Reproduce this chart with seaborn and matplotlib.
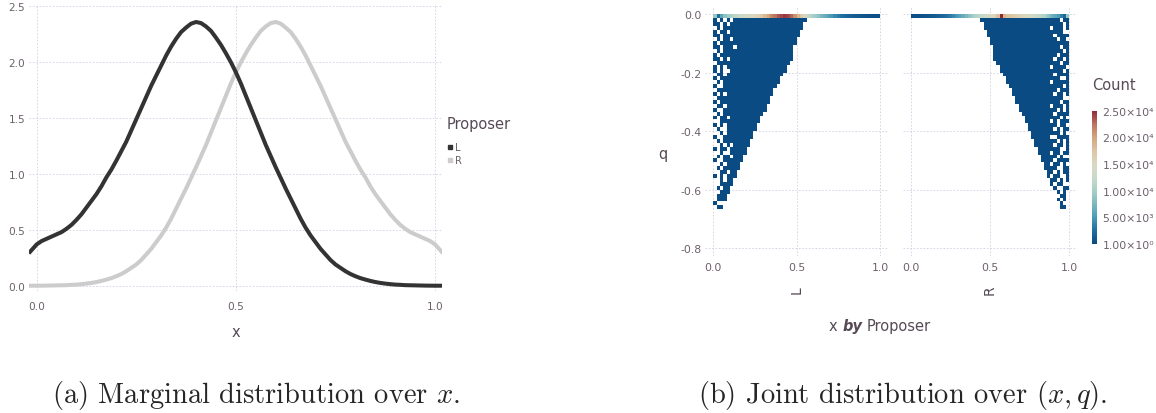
import numpy as np
import pandas as pd
import matplotlib
matplotlib.use("Agg")
import matplotlib.pyplot as plt
import seaborn as sns
from matplotlib.colors import LinearSegmentedColormap
from matplotlib.lines import Line2D

# ------------------------------------------------------------------ data
# (a) marginal density over x, per proposer
x_points = [-0.02,
            0.0, 0.0125, 0.025, 0.0375, 0.05, 0.0625, 0.075, 0.0875, 0.1, 0.1125,
            0.125, 0.1375, 0.15, 0.1625, 0.175, 0.1875, 0.2, 0.2125, 0.225, 0.2375,
            0.25, 0.2625, 0.275, 0.2875, 0.3, 0.3125, 0.325, 0.3375, 0.35, 0.3625,
            0.375, 0.3875, 0.4, 0.4125, 0.425, 0.4375, 0.45, 0.4625, 0.475, 0.4875,
            0.5, 0.5125, 0.525, 0.5375, 0.55, 0.5625, 0.575, 0.5875, 0.6, 0.6125,
            0.625, 0.6375, 0.65, 0.6625, 0.675, 0.6875, 0.7, 0.7125, 0.725, 0.7375,
            0.75, 0.7625, 0.775, 0.7875, 0.8, 0.8125, 0.825, 0.8375, 0.85, 0.8625,
            0.875, 0.8875, 0.9, 0.9125, 0.925, 0.9375, 0.95, 0.9625, 0.975, 0.9875,
            1.0,
            1.02]
density_L = [0.29,
             0.37, 0.40, 0.42, 0.44, 0.46, 0.48, 0.51, 0.545, 0.59, 0.64,
             0.70, 0.76, 0.82, 0.89, 0.97, 1.04, 1.12, 1.205, 1.29, 1.39,
             1.49, 1.59, 1.69, 1.79, 1.88, 1.97, 2.06, 2.14, 2.21, 2.27,
             2.31, 2.345, 2.36, 2.35, 2.32, 2.28, 2.22, 2.155, 2.08, 2.0,
             1.91, 1.81, 1.70, 1.59, 1.48, 1.37, 1.26, 1.16, 1.06, 0.965,
             0.87, 0.78, 0.69, 0.60, 0.52, 0.45, 0.39, 0.33, 0.28, 0.23,
             0.19, 0.16, 0.13, 0.105, 0.085, 0.068, 0.055, 0.043, 0.033, 0.025,
             0.019, 0.014, 0.010, 0.008, 0.005, 0.004, 0.003, 0.002, 0.001, 0.0005,
             0.0,
             0.0]
density_R = [0.0,
             0.0, 0.0005, 0.001, 0.002, 0.003, 0.004, 0.005, 0.008, 0.010, 0.014,
             0.019, 0.025, 0.033, 0.043, 0.055, 0.068, 0.085, 0.105, 0.13, 0.16,
             0.19, 0.23, 0.28, 0.33, 0.39, 0.45, 0.52, 0.60, 0.69, 0.78,
             0.87, 0.965, 1.06, 1.16, 1.26, 1.37, 1.48, 1.59, 1.70, 1.81,
             1.91, 2.0, 2.08, 2.155, 2.22, 2.28, 2.32, 2.35, 2.36, 2.345,
             2.31, 2.27, 2.21, 2.14, 2.06, 1.97, 1.88, 1.79, 1.69, 1.59,
             1.49, 1.39, 1.29, 1.205, 1.12, 1.04, 0.97, 0.89, 0.82, 0.76,
             0.70, 0.64, 0.59, 0.545, 0.51, 0.48, 0.46, 0.44, 0.42, 0.40,
             0.37,
             0.29]
proposers = ["L", "R"]
proposer_colors = ["#333333", "#cccccc"]
x_ticks = [0.0, 0.5, 1.0]
x_tick_labels = ["0.0", "0.5", "1.0"]
dens_ticks = [0.0, 0.5, 1.0, 1.5, 2.0, 2.5]
dens_tick_labels = ["0.0", "0.5", "1.0", "1.5", "2.0", "2.5"]

# (b) joint histogram over (x, q): 50 x-bins (width 0.02), 50 q-bins (height 1/75)
# counts in the q = 0 row, per x-bin
top_counts_L = [9000, 2500, 6000, 8500, 9500, 10500, 11500, 12500, 13500, 14000,
                14500, 15000, 15500, 16000, 17000, 18500, 20000, 21500, 22500, 23500,
                24000, 24500, 24000, 23000, 21000, 19000, 17000, 14000, 12000, 10500,
                9500, 8500, 7500, 6500, 5500, 4800, 4000, 3300, 2700, 2200,
                1800, 1500, 1200, 1000, 800, 650, 500, 400, 300, 250]
top_counts_R = [250, 300, 400, 500, 650, 800, 1000, 1200, 1500, 1800,
                2200, 2700, 3300, 4000, 4800, 5500, 6500, 7500, 8500, 9500,
                10500, 11500, 12500, 13500, 14000, 14500, 15500, 18000, 25000, 19000,
                18000, 17500, 17000, 16500, 16000, 15500, 15000, 14500, 14000, 13000,
                12000, 11000, 10000, 8500, 7000, 6000, 5000, 3500, 2000, 9000]
body_count = 150
# L: number of filled x-bins (from x = 0) in q rows 1..49
edge_L = [28, 27, 27, 26, 26, 25, 25, 24, 24, 24, 24, 23, 22, 22, 21, 20, 20, 19, 18, 18,
          17, 17, 16, 16, 15, 14, 14, 13, 13, 12, 12, 11, 11, 10, 10, 9, 9, 8, 8, 7,
          7, 6, 6, 5, 5, 4, 4, 3, 3]
# L: occupancy of x-bins 0..9 in q rows 1..49 ('#' filled, '.' empty)
sparse_L = ["#.#.#.####", "##.#.#####", ".#.#######", "#.##.#####", "##.#######",
            ".#.##.####", "#.########", "##.###.###", ".#.#######", "#.########",
            "##.#.#####", ".#########", "#.#.######", "#.#..#####", ".##.######",
            "#.########", ".#.#######", "#..#######", ".#########", "#.#.######",
            ".#########", "#.########", ".##.######", "#..#######", ".#.#######",
            "#.##.#####", "..########", "#.#.######", ".#..######", "..#.######",
            "#..#######", ".#.#######", "..#.#.####", "#.##.#####", "..#..#####",
            ".#.##.####", "#..#######", "..#.######", ".#.#######", "..##.#####",
            "#.#.######", "..#.######", "..########", ".#.##.....", "..###.....",
            ".####.....", ".###......", "#.........", ".##......."]
# R: first filled x-bin in q rows 1..49
start_R = [22, 23, 23, 24, 24, 25, 25, 26, 26, 26, 26, 27, 28, 28, 29, 30, 30, 31, 32, 32,
           33, 33, 34, 34, 35, 36, 36, 37, 37, 38, 38, 39, 39, 40, 40, 41, 41, 42, 42, 43,
           43, 44, 44, 45, 45, 46, 46, 47, 47]
# R: occupancy of x-bins 40..49 in q rows 1..49
sparse_R = ["#######.##", "########.#", "####.###.#", "########..", "#####.####",
            "######.##.", "##########", "#######.##", "########.#", "######.###",
            "#####.##.#", "#######.##", "####.####.", "########.#", "#####.####",
            "#######..#", "####.#####", "########.#", "######.###", "#####.##.#",
            "########..", "#######.##", "####.###.#", "######.#.#", "#####.####",
            "#######.#.", "####.#.###", "######.##.", "#####.#.##", "#######.#.",
            "####..####", "######.#.#", "#####.##.#", "#######..#", "####.##.##",
            "######.#..", "#####.####", "####.##.#.", "######..##", "#####.#.##",
            "####.##..#", "######.#.#", "#####.##..", "######..##", "#####.#.#.",
            "######.##.", "#######.#.", "########..", "#########."]
q_ticks = [-0.8, -0.6, -0.4, -0.2, 0.0]
q_tick_labels = ["-0.8", "-0.6", "-0.4", "-0.2", "0.0"]
count_ticks = [1, 5000, 10000, 15000, 20000, 25000]
count_tick_labels = ["1.00×10⁰", "5.00×10³", "1.00×10⁴", "1.50×10⁴", "2.00×10⁴", "2.50×10⁴"]

# ------------------------------------------------------------------ style
W, H = 1156, 414
sns.set_style("white")
plt.rcParams["font.family"] = ["DejaVu Sans"]
plt.rcParams["mathtext.fontset"] = "cm"
plt.rcParams["axes.unicode_minus"] = False
LABEL_C = "#564a55"
TICK_C = "#6c606b"
GRID_C = "#d0d0e0"


def fx(x):
    return x / W


def fy(y):
    return 1 - y / H


def ax_rect(x0, y0, x1, y1):
    return [x0 / W, 1 - y1 / H, (x1 - x0) / W, (y1 - y0) / H]


def style(ax):
    for s in ax.spines.values():
        s.set_visible(False)
    ax.grid(True, color=GRID_C, linestyle=(0, (2, 2)), linewidth=0.6)
    ax.set_axisbelow(True)
    ax.set_xlabel("")
    ax.set_ylabel("")


fig = plt.figure(figsize=(W / 100, H / 100), dpi=100)

# ------------------------------------------------------------------ (a)
ax_a = fig.add_axes(ax_rect(29.3, 5.1, 441.7, 292.3))
dens_df = pd.DataFrame({
    "x": x_points * 2,
    "density": density_L + density_R,
    "Proposer": ["L"] * len(x_points) + ["R"] * len(x_points),
})
sns.lineplot(data=dens_df, x="x", y="density", hue="Proposer", hue_order=["R", "L"],
             palette=dict(zip(proposers, proposer_colors)), linewidth=2.9,
             legend=False, ax=ax_a, sort=True,
             solid_joinstyle="round", solid_capstyle="butt")
ax_a.set_xlim(-0.0186, 1.0167)
ax_a.set_ylim(-0.05, 2.52)
style(ax_a)
ax_a.set_xticks(x_ticks, x_tick_labels)
ax_a.set_yticks(dens_ticks, dens_tick_labels)
ax_a.tick_params(axis="x", length=0, pad=7, labelsize=7.6, labelcolor=TICK_C)
ax_a.tick_params(axis="y", length=0, pad=3, labelsize=7.6, labelcolor=TICK_C)
fig.text(fx(235.7), fy(337), "x", ha="center", va="baseline", fontsize=10.5, color=LABEL_C)

# legend (Gadfly-style)
fig.text(fx(446.7), fy(129), "Proposer", ha="left", va="baseline", fontsize=10.5, color=LABEL_C)
for lab, col, yy in zip(proposers, proposer_colors, [148.3, 161.0]):
    fig.add_artist(Line2D([fx(450)], [fy(yy)], marker="s", markersize=3.2, linestyle="",
                          color=col, transform=fig.transFigure))
    fig.text(fx(455.5), fy(yy), lab, ha="left", va="center", fontsize=7.2, color=TICK_C)

# ------------------------------------------------------------------ (b)
XB = 0.02
QB = 1 / 75
x_edges = np.linspace(0, 1, 51)
q_edges = np.linspace(-50 * QB, 0, 51)

count_cmap = LinearSegmentedColormap.from_list("count", [
    (0.0, "#0a4a82"), (0.1, "#1f6f9f"), (0.2, "#4a9bb8"), (0.3, "#7cb9bd"),
    (0.4, "#a9d0c8"), (0.5, "#c8d9c9"), (0.6, "#dad8c2"), (0.7, "#dcc6a4"),
    (0.8, "#d3a67f"), (0.9, "#bd755e"), (1.0, "#8d2a3a")])

cells = {"L": [], "R": []}
for c, v in enumerate(top_counts_L):
    cells["L"].append(((c + 0.5) * XB, -0.5 * QB, v))
for c, v in enumerate(top_counts_R):
    cells["R"].append(((c + 0.5) * XB, -0.5 * QB, v))
for r in range(1, 50):
    n, pat = edge_L[r - 1], sparse_L[r - 1]
    for c in range(n):
        if c < len(pat) and pat[c] == ".":
            continue
        cells["L"].append(((c + 0.5) * XB, -(r + 0.5) * QB, body_count))
    s, pat = start_R[r - 1], sparse_R[r - 1]
    for c in range(s, 50):
        if c >= 40 and pat[c - 40] == ".":
            continue
        cells["R"].append(((c + 0.5) * XB, -(r + 0.5) * QB, body_count))

ax_L = fig.add_axes(ax_rect(705.0, 6.8, 888.3, 256.9))
ax_R = fig.add_axes(ax_rect(902.8, 6.8, 1077.2, 256.9))
for ax, key in [(ax_L, "L"), (ax_R, "R")]:
    df = pd.DataFrame(cells[key], columns=["x", "q", "count"])
    sns.histplot(data=df, x="x", y="q", weights="count", bins=(x_edges, q_edges),
                 cmap=count_cmap, vmin=1, vmax=25000, ax=ax, linewidth=0)
    ax.set_xlim(-0.05, 1.05)
    ax.set_ylim(-0.826, 0.028)
    style(ax)
    ax.set_xticks(x_ticks, x_tick_labels)
    ax.set_yticks(q_ticks, q_tick_labels if key == "L" else [""] * len(q_ticks))
    ax.tick_params(axis="x", length=0, pad=4.5, labelsize=7.8, labelcolor=TICK_C)
    ax.tick_params(axis="y", length=0, pad=2.5, labelsize=7.8, labelcolor=TICK_C)

fig.text(fx(796.7), fy(290), "L", rotation=90, ha="center", va="center", fontsize=10, color=LABEL_C)
fig.text(fx(990.0), fy(290), "R", rotation=90, ha="center", va="center", fontsize=10, color=LABEL_C)
fig.text(fx(663), fy(159), "q", ha="center", va="baseline", fontsize=10.5, color=LABEL_C)

# "x by Proposer" facet axis title
renderer = fig.canvas.get_renderer()
fs = 10.5
parts = [("x", "normal", "normal"), ("by", "bold", "italic"), ("Proposer", "normal", "normal")]
tx = [fig.text(0, fy(331), s, fontweight=w, fontstyle=st, fontsize=fs, color=LABEL_C,
               ha="left", va="baseline") for s, w, st in parts]
widths = [t.get_window_extent(renderer).width for t in tx]
space = 0.318 * fs * 100 / 72
total = sum(widths) + 2 * space
cur = 880 - total / 2
for t, w in zip(tx, widths):
    t.set_x(fx(cur))
    cur += w + space

# colorbar
cax = fig.add_axes(ax_rect(1092, 111.7, 1097, 245))
cb = fig.colorbar(ax_L.collections[0], cax=cax, ticks=count_ticks)
cb.outline.set_visible(False)
cax.set_yticklabels(count_tick_labels)
cax.tick_params(length=0, pad=4, labelsize=7.8, labelcolor=TICK_C)
fig.text(fx(1092), fy(90), "Count", ha="left", va="baseline", fontsize=10.5, color=LABEL_C)

# ------------------------------------------------------------------ captions
fig.text(fx(256), fy(403), r"(a) Marginal distribution over $x$.", ha="center", va="baseline",
         fontsize=20.5, family="cmr10")
fig.text(fx(903), fy(403), r"(b) Joint distribution over $(x, q)$.", ha="center", va="baseline",
         fontsize=20.5, family="cmr10")

fig.savefig("out.png", dpi=100)
